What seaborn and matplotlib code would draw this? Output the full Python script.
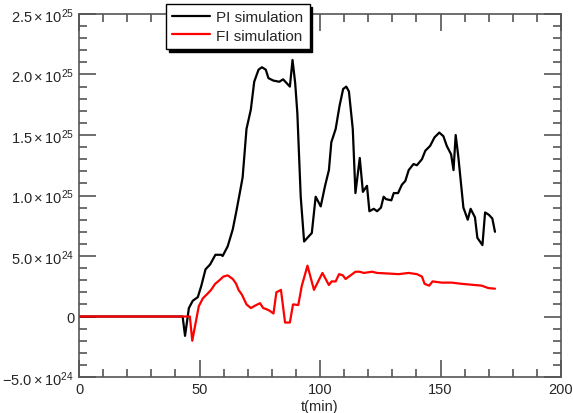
import numpy as np
import pandas as pd
import matplotlib
matplotlib.use("Agg")
import matplotlib.pyplot as plt
from matplotlib.ticker import MultipleLocator, FuncFormatter
import seaborn as sns

# PI simulation, t in min, value in units of 1e24
t_pi = [0, 43, 44, 45.6, 47.2, 49.3, 50.7, 52.5, 54.4, 56.6, 59, 59.6, 61.7, 63.8, 65.2,
        66.8, 67.9, 69.5, 71.3, 72.7, 74.5, 75.9, 77.5, 78.6, 80.6, 83.1, 84.7, 86.1,
        87.5, 88.6, 89.7, 90.6, 92, 93.4, 96.6, 98.2, 100.3, 102.1, 103.7, 104.7, 106.5,
        108.1, 109.6, 110.9, 112, 113.6, 114.7, 116.5, 117.8, 119.5, 120.5, 122.3, 123.7,
        125.3, 126.4, 127.4, 129.6, 130.6, 132.4, 134, 135.4, 136.8, 138.8, 140.2, 142.3,
        143.7, 145.7, 147.5, 149.5, 151.2, 152.6, 154.4, 155.4, 156.3, 157.4, 159.5,
        161.3, 162.5, 164.3, 165.3, 167.4, 168.5, 170.1, 171.5, 172.6]
pi_vals = [0, 0, -1.6, 0.7, 1.3, 1.6, 2.5, 3.9, 4.3, 5.1, 5.1, 5.0, 5.8, 7.2, 8.6,
           10.3, 11.5, 15.5, 17.1, 19.4, 20.4, 20.6, 20.4, 19.7, 19.5, 19.4, 19.6, 19.3,
           19.0, 21.2, 19.3, 16.8, 9.9, 6.2, 6.9, 9.9, 9.1, 10.8, 12.1, 14.4, 15.5,
           17.4, 18.8, 19.0, 18.6, 15.5, 10.2, 13.1, 10.3, 10.8, 8.7, 8.9, 8.7,
           9.0, 9.9, 9.7, 9.6, 10.2, 10.2, 10.9, 11.2, 12.1, 12.6, 12.5, 13.0,
           13.7, 14.1, 14.8, 15.2, 14.9, 14.1, 13.4, 12.1, 15.0, 13.2, 9.0,
           8.0, 8.9, 8.2, 6.5, 5.9, 8.6, 8.4, 8.1, 7.0]

# FI simulation
t_fi = [0, 46, 47, 49.7, 51.4, 53.4, 54.8, 56.5, 58.3, 59.9, 61.7, 63.8, 65.2, 66.2,
        67.6, 69.5, 71.3, 73.1, 75.1, 76.4, 77.8, 78.9, 80.7, 81.9, 83.8, 85.5, 87.5,
        88.8, 91.0, 92.4, 94.8, 97.5, 101, 103.7, 104.8, 106.5, 107.9, 109.5, 110.6,
        112.7, 114.7, 116.4, 118.2, 121.6, 123.7, 128.5, 132.6, 136.8, 140.2, 142.3,
        143.4, 145.3, 146.7, 150.5, 154.7, 158.8, 164.3, 167.1, 169.8, 172.6]
fi_vals = [0, 0, -2.0, 0.85, 1.5, 1.9, 2.2, 2.7, 3.0, 3.3, 3.4, 3.1, 2.7, 2.2,
           1.8, 1.0, 0.7, 0.9, 1.1, 0.7, 0.6, 0.5, 0.25, 2.0, 2.2, -0.5, -0.5,
           1.0, 0.95, 2.5, 4.2, 2.2, 3.6, 2.6, 2.9, 2.9, 3.5, 3.4, 3.1,
           3.4, 3.7, 3.7, 3.6, 3.7, 3.6, 3.55, 3.5, 3.6, 3.5, 3.3,
           2.7, 2.55, 2.9, 2.8, 2.8, 2.7, 2.6, 2.55, 2.35, 2.3]

df = pd.concat([
    pd.DataFrame({"t": t_pi, "v": np.array(pi_vals) * 1e24, "run": "PI simulation"}),
    pd.DataFrame({"t": t_fi, "v": np.array(fi_vals) * 1e24, "run": "FI simulation"}),
], ignore_index=True)

sns.set_style("ticks")
plt.rcParams['font.family'] = ['Liberation Sans', 'DejaVu Sans']
plt.rcParams['mathtext.fontset'] = 'custom'
plt.rcParams['mathtext.rm'] = 'Liberation Sans'
plt.rcParams['mathtext.it'] = 'Liberation Sans'

fig = plt.figure(figsize=(5.73, 4.14), dpi=100)
ax = fig.add_axes([79/573, 1-378/414, (561-79)/573, (378-15)/414])

sns.lineplot(data=df, x="t", y="v", hue="run", palette=["black", "red"],
             estimator=None, sort=False, lw=1.6, ax=ax)

ax.set_xlim(0, 200)
ax.set_ylim(-5e24, 2.5e25)
ax.xaxis.set_major_locator(MultipleLocator(50))
ax.xaxis.set_minor_locator(MultipleLocator(10))
ax.yaxis.set_major_locator(MultipleLocator(5e24))
ax.yaxis.set_minor_locator(MultipleLocator(1e24))

def yfmt(v, pos):
    if abs(v) < 1e20:
        return "0"
    e = int(np.floor(np.log10(abs(v))))
    m = v / 10**e
    return r"$%.1f\times10^{%d}$" % (m, e)

ax.yaxis.set_major_formatter(FuncFormatter(yfmt))
ax.tick_params(which="both", direction="in", top=True, right=True,
               color="#555555", width=1.2, labelsize=10.5)
ax.tick_params(which="major", length=12)
ax.tick_params(which="minor", length=6)
for s in ax.spines.values():
    s.set_color("#555555")
    s.set_linewidth(1.2)

ax.set_xlabel("t(min)", fontsize=10.5, labelpad=2)
ax.set_ylabel("")

leg = ax.legend(loc="upper left", bbox_to_anchor=(166/573, 1-5/414),
                bbox_transform=fig.transFigure, borderaxespad=0,
                fancybox=False, shadow={"color": "black", "alpha": 1},
                edgecolor="black", framealpha=1, fontsize=11,
                handlelength=2.5, handletextpad=0.4, borderpad=0.4,
                labelspacing=0.3)
leg.get_frame().set_linewidth(1.0)
for ln in leg.get_lines():
    ln.set_linewidth(1.6)

fig.savefig("out.png", dpi=100)
